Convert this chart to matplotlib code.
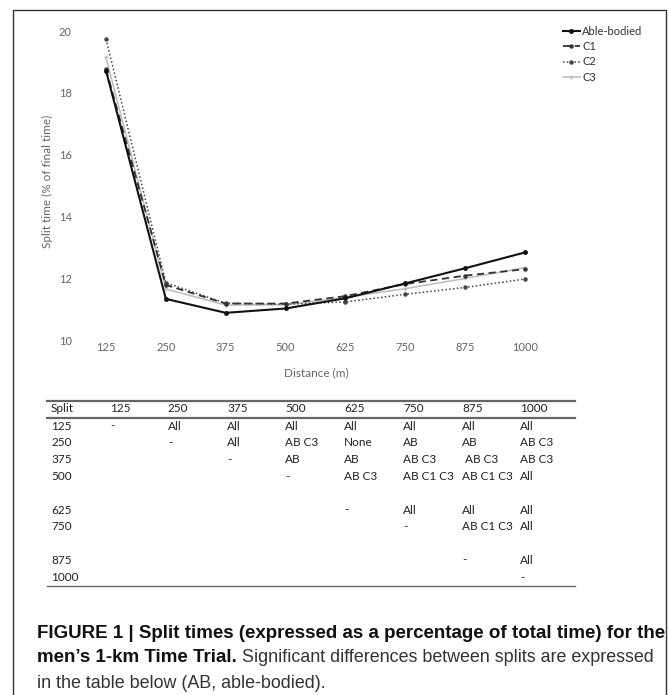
import matplotlib
matplotlib.use("Agg")
import matplotlib.pyplot as plt
from matplotlib.lines import Line2D
from matplotlib.patches import Rectangle

# ---------------- data ----------------
distance = [125, 250, 375, 500, 625, 750, 875, 1000]
able_bodied = [18.72, 11.35, 10.90, 11.04, 11.37, 11.85, 12.34, 12.85]
c1 = [18.76, 11.80, 11.20, 11.20, 11.44, 11.83, 12.10, 12.31]
c2 = [19.74, 11.87, 11.21, 11.18, 11.25, 11.50, 11.72, 11.99]
c3 = [19.15, 11.67, 11.15, 11.16, 11.40, 11.68, 12.01, 12.36]
series_names = ["Able-bodied", "C1", "C2", "C3"]
y_ticks = [10, 12, 14, 16, 18, 20]

table_header = ["Split", "125", "250", "375", "500", "625", "750", "875", "1000"]
table_rows = [
    ["125", "-", "All", "All", "All", "All", "All", "All", "All"],
    ["250", "", "-", "All", "AB C3", "None", "AB", "AB", "AB C3"],
    ["375", "", "", "-", "AB", "AB", "AB C3", " AB C3", "AB C3"],
    ["500", "", "", "", "-", "AB C3", "AB C1 C3", "AB C1 C3", "All"],
    ["625", "", "", "", "", "-", "All", "All", "All"],
    ["750", "", "", "", "", "", "-", "AB C1 C3", "All"],
    ["875", "", "", "", "", "", "", "-", "All"],
    ["1000", "", "", "", "", "", "", "", "-"],
]
caption_bold_1 = "FIGURE 1 | Split times (expressed as a percentage of total time) for the"
caption_bold_2 = "men\u2019s 1-km Time Trial."
caption_reg_2 = " Significant differences between splits are expressed"
caption_reg_3 = "in the table below (AB, able-bodied)."

# ---------------- figure ----------------
W, H = 669, 695
fig = plt.figure(figsize=(W / 100, H / 100), dpi=100)
fig.patch.set_facecolor("white")

def fx(px):
    return px / W

def fy(py):
    return 1 - py / H

# outer frame
fig.patches.append(Rectangle((fx(13), fy(700)), fx(666) - fx(13), fy(9.5) - fy(700),
                             transform=fig.transFigure, fill=False,
                             edgecolor="#333333", linewidth=1.0))

chart_font = "Lato"
gray = "#666666"

# axes: x 125 -> px106, 1000 -> px525 ; y 10 -> px340.7, 20 -> px31
ax_l, ax_r = 80, 560
ax_t, ax_b = 25, 340.7
ax = fig.add_axes([fx(ax_l), fy(ax_b), fx(ax_r) - fx(ax_l), fy(ax_t) - fy(ax_b)])
xs_per_px = 875 / 419
ax.set_xlim(125 - (106 - ax_l) * xs_per_px, 125 + (ax_r - 106) * xs_per_px)
ys_per_px = 10 / (340.7 - 31)
ax.set_ylim(10, 10 + (340.7 - ax_t) * ys_per_px)
for s in ax.spines.values():
    s.set_visible(False)
ax.set_xticks(distance)
ax.set_xticklabels([str(d) for d in distance])
ax.set_yticks(y_ticks)
ax.tick_params(length=0, labelsize=8, labelcolor=gray)
ax.tick_params(axis="y", pad=6)
ax.tick_params(axis="x", pad=1)
for lab in ax.get_xticklabels() + ax.get_yticklabels():
    lab.set_fontfamily(chart_font)
ax.set_ylabel("Split time (% of final time)", fontsize=8.5, color=gray,
              fontfamily=chart_font, va="center")
ax.yaxis.set_label_coords((47 - ax_l) / (ax_r - ax_l), 0.505)
ax.set_xlabel("Distance (m)", fontsize=8.5, color=gray,
              fontfamily=chart_font, va="center")
ax.xaxis.set_label_coords((316 - ax_l) / (ax_r - ax_l), -(373 - ax_b) / (ax_b - ax_t))

ax.plot(distance, c3, color="#c0c0c0", lw=1.2, marker="+", ms=3, label=series_names[3], zorder=2)
ax.plot(distance, c2, color="#444444", lw=1.1, ls=(0, (1, 1.5)), marker="o", ms=2.2, label=series_names[2], zorder=3)
ax.plot(distance, c1, color="#333333", lw=1.3, ls=(0, (4, 2.5)), marker="o", ms=2.2, label=series_names[1], zorder=4)
ax.plot(distance, able_bodied, color="#111111", lw=1.5, marker="o", ms=2.5, label=series_names[0], zorder=5)

handles, labels = ax.get_legend_handles_labels()
order = [3, 2, 1, 0]
leg = fig.legend([handles[i] for i in order], [labels[i] for i in order],
                 loc="upper left", bbox_to_anchor=(fx(563), fy(26)),
                 frameon=False, fontsize=8, handlelength=1.5, handletextpad=0.25,
                 labelspacing=0.38, borderaxespad=0, borderpad=0)
for t in leg.get_texts():
    t.set_fontfamily(chart_font)
    t.set_color("#333333")

# ---------------- table ----------------
col_x = [51, 110, 168, 227, 285, 344, 403, 462, 520]
row_y = [426, 443, 459.5, 476.5, 510, 527, 560, 577.5]
header_y = 409
tfont = dict(fontsize=8.5, fontfamily=chart_font, color="#222222", va="center", ha="left")
for cx, txt in zip(col_x, table_header):
    fig.text(fx(cx), fy(header_y), txt, **tfont)
for ry, row in zip(row_y, table_rows):
    for cx, txt in zip(col_x, row):
        if txt:
            fig.text(fx(cx), fy(ry), txt, **tfont)
for ly, lw in [(400.7, 1.6), (417.5, 1.6), (586, 1.0)]:
    fig.add_artist(Line2D([fx(47), fx(575)], [fy(ly), fy(ly)], transform=fig.transFigure,
                          color="#666666", lw=lw))

# ---------------- caption ----------------
cap_font = "Liberation Sans"
cap_left = 37
base = 12
t1 = fig.text(fx(cap_left), fy(633), caption_bold_1, fontsize=base, fontweight="bold",
              fontfamily=cap_font, va="center", ha="left", color="#111111")
fig.canvas.draw()
r = fig.canvas.get_renderer()
bsize = base * (663 - cap_left) / t1.get_window_extent(r).width
t1.set_fontsize(bsize)
t2 = fig.text(fx(cap_left), fy(658), caption_bold_2, fontsize=bsize, fontweight="bold",
              fontfamily=cap_font, va="center", ha="left", color="#111111")
fig.canvas.draw()
x_after = t2.get_window_extent(r).x1
t3 = fig.text(x_after / W, fy(658), caption_reg_2, fontsize=base,
              fontfamily=cap_font, va="center", ha="left", color="#333333")
fig.canvas.draw()
rsize = base * (653 - x_after) / t3.get_window_extent(r).width
t3.set_fontsize(rsize)
fig.text(fx(cap_left), fy(683), caption_reg_3, fontsize=rsize,
         fontfamily=cap_font, va="center", ha="left", color="#333333")

fig.savefig("out.png", dpi=100)
